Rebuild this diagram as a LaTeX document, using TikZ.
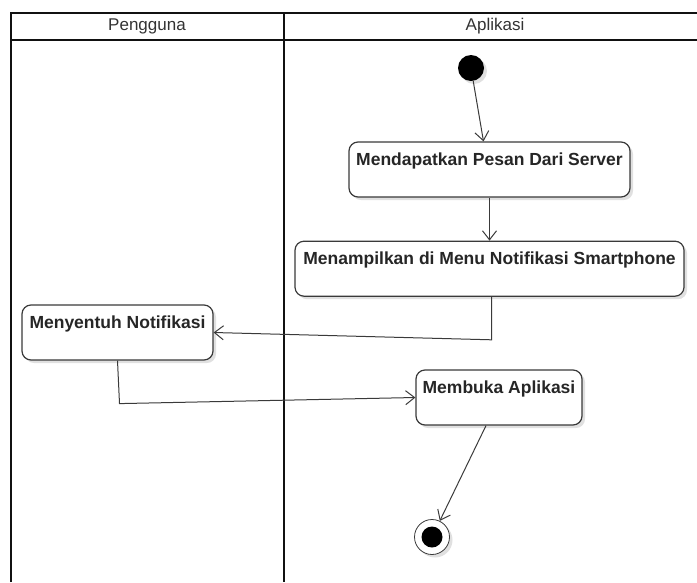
\documentclass[tikz,border=0pt]{standalone}
\usepackage{fontspec}
\setmainfont{Liberation Sans}
\usepackage{xcolor}
\usetikzlibrary{arrows.meta,positioning,shadows}
\definecolor{actline}{HTML}{3A3A3A}
\definecolor{laneline}{HTML}{111111}
\definecolor{lanetext}{HTML}{333333}
\tikzset{
  actbox/.style={draw=actline,line width=1.2pt,fill=white,rounded corners=9pt,
    inner xsep=3pt,inner ysep=5pt,text height=18pt,text depth=27pt,
    font=\bfseries\fontsize{17.5}{20}\selectfont,text=black!85,
    drop shadow={shadow xshift=3pt,shadow yshift=-3pt,opacity=.12,fill=black}},
  lanehead/.style={font=\fontsize{17}{20}\selectfont,text=lanetext},
  lane/.style={draw=laneline,line width=2pt},
  startdot/.style={circle,fill=black,minimum size=26pt,inner sep=0pt,
    drop shadow={shadow xshift=3pt,shadow yshift=-3pt,opacity=.12,fill=black}},
  enddot/.style={circle,draw=actline,line width=.8pt,fill=white,minimum size=35pt,inner sep=0pt,
    drop shadow={shadow xshift=3pt,shadow yshift=-3pt,opacity=.12,fill=black},
    path picture={\fill[black] (path picture bounding box.center) circle (10.5pt);}},
  flow/.style={-{Straight Barb[length=9pt,width=14pt]},line width=1pt,draw=actline}
}
\begin{document}
\begin{tikzpicture}[x=1pt,y=-1pt,node distance=43pt]
  \useasboundingbox (0,0) rectangle (697,582);
  % swimlanes
  \draw[lane] (10.5,582) -- (10.5,12.5) -- (697,12.5);
  \draw[lane] (10.5,40) -- (697,40);
  \draw[lane] (284,12.5) -- (284,582);
  \node[lanehead] (hpengguna) at (147,26) {Pengguna};
  \node[lanehead] (haplikasi) at (495,26) {Aplikasi};
  % activities
  \node[startdot] (start) at (471,68) {};
  \node[actbox,minimum width=281pt] (server) at (489.5,169.5) {Mendapatkan Pesan Dari Server};
  \node[actbox,minimum width=389pt,below=of server] (notif) {Menampilkan di Menu Notifikasi Smartphone};
  \node[actbox,minimum width=191pt] (sentuh) at (117.5,332.5) {Menyentuh Notifikasi};
  \node[actbox,minimum width=166pt] (buka) at (499,397.5) {Membuka Aplikasi};
  \node[enddot] (end) at (432,537) {};
  % flows
  \draw[flow] (start) -- ([xshift=-6pt]server.north);
  \draw[flow] (server) -- (notif);
  \draw[flow] ([xshift=2pt]notif.south) -- ++(0,43) -- (sentuh.east);
  \draw[flow] (sentuh.south) -- ++(2,43) -- (buka.west);
  \draw[flow] ([xshift=-13pt]buka.south) -- (end);
\end{tikzpicture}
\end{document}
